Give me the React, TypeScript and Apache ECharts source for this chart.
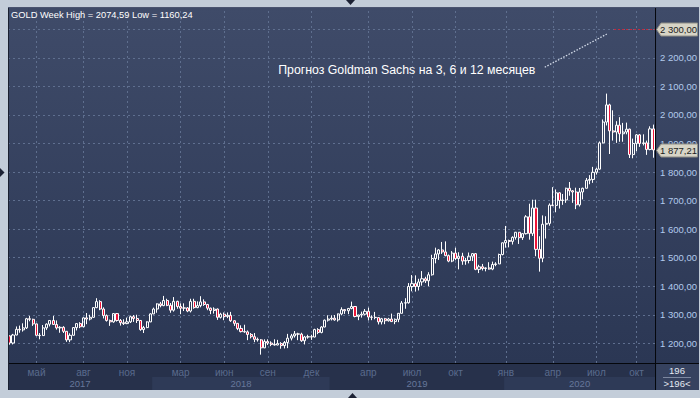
import React, { useEffect, useRef } from "react";
import * as echarts from "echarts";

// Weekly XAUUSD candles, each row: [open, close, low, high]
const candles2017: number[][] = [
  [1226, 1201, 1195, 1227], [1201, 1229, 1196, 1233], [1229, 1249, 1228, 1259], [1249, 1247, 1237, 1262],
  [1247, 1254, 1241, 1270], [1254, 1286, 1250, 1289], [1286, 1284, 1277, 1296], [1284, 1268, 1261, 1286],
  [1268, 1228, 1225, 1269], [1228, 1227, 1214, 1236], [1227, 1254, 1226, 1264], [1254, 1267, 1247, 1270],
  [1267, 1280, 1259, 1281], [1280, 1266, 1265, 1296], [1266, 1254, 1248, 1280], [1254, 1256, 1237, 1260],
  [1256, 1242, 1236, 1260], [1242, 1212, 1205, 1243], [1212, 1228, 1204, 1235], [1228, 1255, 1227, 1257],
  [1255, 1269, 1245, 1270], [1269, 1258, 1253, 1274], [1258, 1289, 1256, 1291], [1289, 1285, 1267, 1306],
  [1285, 1291, 1280, 1300], [1291, 1325, 1290, 1326], [1325, 1346, 1323, 1358], [1346, 1320, 1316, 1351],
  [1320, 1297, 1287, 1326], [1297, 1280, 1276, 1301], [1280, 1275, 1261, 1283], [1275, 1304, 1272, 1306],
  [1304, 1280, 1276, 1306], [1280, 1272, 1262, 1285], [1272, 1269, 1264, 1284], [1269, 1275, 1267, 1290],
  [1275, 1293, 1271, 1297], [1293, 1287, 1275, 1299], [1287, 1280, 1271, 1300], [1280, 1248, 1244, 1281],
  [1248, 1255, 1236, 1261], [1255, 1275, 1253, 1277], [1275, 1303, 1274, 1305],
];
const candles2018: number[][] = [
  [1303, 1320, 1302, 1325], [1320, 1338, 1307, 1340], [1338, 1332, 1326, 1345], [1332, 1350, 1330, 1366],
  [1350, 1333, 1330, 1356], [1333, 1316, 1307, 1341], [1316, 1347, 1311, 1362], [1347, 1329, 1321, 1349],
  [1329, 1323, 1302, 1340], [1323, 1324, 1313, 1340], [1324, 1313, 1309, 1327], [1313, 1347, 1308, 1356],
  [1347, 1325, 1321, 1356], [1325, 1332, 1323, 1347], [1332, 1345, 1326, 1365], [1345, 1336, 1331, 1354],
  [1336, 1323, 1316, 1338], [1323, 1315, 1302, 1325], [1315, 1320, 1304, 1326], [1320, 1291, 1282, 1322],
  [1291, 1302, 1287, 1307], [1302, 1294, 1281, 1308], [1294, 1298, 1288, 1308], [1298, 1279, 1275, 1310],
  [1279, 1270, 1261, 1281], [1270, 1252, 1246, 1271], [1252, 1241, 1238, 1263], [1241, 1240, 1237, 1265],
  [1240, 1231, 1211, 1245], [1231, 1223, 1217, 1236], [1223, 1214, 1204, 1236], [1214, 1212, 1206, 1220],
  [1212, 1184, 1160.24, 1215], [1184, 1206, 1183, 1214], [1206, 1201, 1194, 1214], [1201, 1196, 1190, 1207],
  [1196, 1194, 1192, 1214], [1194, 1199, 1193, 1212], [1199, 1192, 1181, 1204], [1192, 1203, 1182, 1208],
  [1203, 1218, 1183, 1233], [1218, 1226, 1210, 1233], [1226, 1233, 1220, 1243], [1233, 1232, 1211, 1237],
  [1232, 1209, 1205, 1237], [1209, 1222, 1196, 1226], [1222, 1223, 1216, 1230], [1223, 1222, 1212, 1230],
  [1222, 1248, 1221, 1251], [1248, 1238, 1232, 1253], [1238, 1257, 1235, 1260], [1257, 1281, 1256, 1283],
  [1281, 1285, 1276, 1298],
];
const candles2019: number[][] = [
  [1285, 1288, 1280, 1298], [1288, 1282, 1279, 1299], [1282, 1303, 1276, 1304], [1303, 1318, 1298, 1326],
  [1318, 1314, 1303, 1319], [1314, 1322, 1302, 1324], [1322, 1329, 1319, 1346], [1329, 1294, 1291, 1330],
  [1294, 1299, 1281, 1300], [1299, 1302, 1290, 1311], [1302, 1312, 1298, 1320], [1312, 1292, 1280, 1325],
  [1292, 1291, 1281, 1298], [1291, 1290, 1284, 1310], [1290, 1275, 1266, 1291], [1275, 1286, 1266, 1289],
  [1286, 1279, 1267, 1289], [1279, 1285, 1276, 1289], [1285, 1276, 1275, 1304], [1276, 1284, 1267, 1287],
  [1284, 1305, 1274, 1306], [1305, 1341, 1305, 1348], [1341, 1342, 1321, 1358], [1342, 1399, 1339, 1411],
  [1399, 1409, 1382, 1439], [1409, 1399, 1381, 1438], [1399, 1415, 1385, 1426], [1415, 1426, 1402, 1453],
  [1426, 1419, 1411, 1433], [1419, 1440, 1400, 1449], [1440, 1497, 1437, 1510], [1497, 1513, 1480, 1535],
  [1513, 1527, 1492, 1530], [1527, 1520, 1513, 1555], [1520, 1507, 1505, 1557], [1507, 1488, 1484, 1511],
  [1488, 1516, 1484, 1523], [1516, 1497, 1491, 1535], [1497, 1505, 1459, 1519], [1505, 1488, 1475, 1517],
  [1488, 1490, 1475, 1499], [1490, 1505, 1480, 1518], [1505, 1514, 1488, 1516], [1514, 1459, 1456, 1516],
  [1459, 1468, 1446, 1475], [1468, 1462, 1455, 1478], [1462, 1464, 1452, 1466], [1464, 1460, 1458, 1484],
  [1460, 1476, 1456, 1486], [1476, 1478, 1470, 1484], [1478, 1511, 1478, 1514], [1511, 1552, 1508, 1553],
];
const candles2020: number[][] = [
  [1552, 1560, 1535, 1611], [1560, 1557, 1536, 1563], [1557, 1571, 1546, 1575], [1571, 1589, 1563, 1590],
  [1589, 1570, 1548, 1590], [1570, 1584, 1562, 1585], [1584, 1643, 1581, 1649], [1643, 1585, 1563, 1689],
  [1585, 1674, 1576, 1703], [1674, 1529, 1505, 1703], [1529, 1498, 1451, 1575], [1498, 1617, 1484, 1648],
  [1617, 1620, 1567, 1645], [1620, 1684, 1612, 1690], [1684, 1683, 1680, 1747], [1683, 1727, 1659, 1739],
  [1727, 1700, 1672, 1729], [1700, 1702, 1685, 1723], [1702, 1743, 1692, 1745], [1743, 1734, 1717, 1765],
  [1734, 1730, 1692, 1737], [1730, 1685, 1670, 1745], [1685, 1730, 1679, 1744], [1730, 1743, 1704, 1745],
  [1743, 1771, 1743, 1779], [1771, 1774, 1757, 1789], [1774, 1799, 1762, 1818], [1799, 1810, 1791, 1815],
  [1810, 1902, 1808, 1907], [1902, 1975, 1900, 1984], [1975, 2035, 1963, 2074.59], [2035, 1944, 1863, 2039],
  [1944, 1940, 1910, 2016], [1940, 1964, 1902, 1978], [1964, 1934, 1906, 1992], [1934, 1940, 1906, 1972],
  [1940, 1950, 1932, 1973], [1950, 1861, 1849, 1952], [1861, 1900, 1848, 1917], [1900, 1930, 1873, 1933],
  [1930, 1900, 1888, 1933], [1900, 1902, 1893, 1932], [1902, 1879, 1860, 1910], [1879, 1951, 1876, 1960],
  [1951, 1877.21, 1850, 1966],
];

const firstWeekUTC = Date.UTC(2017, 2, 6);
const monthTickIdx = [8, 22, 35, 51, 64, 77, 90, 107, 120, 133, 148, 162, 175, 187];
const monthTickLabels = ["май", "авг", "ноя", "мар", "июн", "сен", "дек", "апр", "июл", "окт", "янв", "апр", "июл", "окт"];
const yearLabels = ["2017", "2018", "2019", "2020"];
const priceGridValues = [1200, 1300, 1400, 1500, 1600, 1700, 1800, 1900, 2000, 2100, 2200, 2300];
const forecastPrice = 2300;
const annotationText = "Прогноз Goldman Sachs на 3, 6 и 12 месяцев";
const barsLabel = "196";

const FONT = "Liberation Sans";

function fmtRu(v: number, sep = " "): string {
  const s = v.toFixed(2);
  const [i, d] = s.split(".");
  return i.replace(/\B(?=(\d{3})+(?!\d))/g, sep) + "," + d;
}

export default function App() {
  const ref = useRef<HTMLDivElement>(null);
  useEffect(() => {
    const chart = echarts.init(ref.current!, null, { renderer: "svg" });
    const yearBlocks = [candles2017, candles2018, candles2019, candles2020];
    const candles = ([] as number[][]).concat(...yearBlocks);
    const weeks = candles.map((_, i) => new Date(firstWeekUTC + i * 7 * 86400000).toISOString().slice(0, 10));
    const lastClose = candles[candles.length - 1][1];
    const hi = Math.max(...candles.map((c) => c[3]));
    const lo = Math.min(...candles.map((c) => c[2]));

    chart.setOption({
      animation: false,
      backgroundColor: "#c3cdd9",
      grid: { left: 8, right: 44, top: 0.7, bottom: 26.15 },
      xAxis: {
        type: "category",
        data: weeks,
        boundaryGap: true,
        offset: -8.5,
        z: 20,
        axisLine: { show: false },
        axisTick: { show: false },
        splitLine: { show: false },
        axisLabel: {
          interval: (i: number) => monthTickIdx.includes(i),
          formatter: (_v: string, i: number) => monthTickLabels[monthTickIdx.indexOf(i)] ?? "",
          color: "#5a6b8d",
          fontSize: 10,
          fontFamily: FONT,
          margin: 4,
        },
      },
      yAxis: {
        type: "value",
        position: "right",
        min: 1100,
        max: 2400,
        interval: 100,
        z: 20,
        splitLine: { show: false },
        axisLine: { show: false },
        axisTick: { show: false },
        axisLabel: {
          showMinLabel: false,
          showMaxLabel: false,
          margin: 5,
          color: "#b2caec",
          fontSize: 9.5,
          fontFamily: FONT,
          formatter: (v: number) => fmtRu(v),
        },
      },
      series: [
        {
          type: "line",
          data: [],
          silent: true,
          z: 1,
          markLine: {
            z: 1,
            silent: true,
            symbol: "none",
            label: { show: false },
            lineStyle: { color: "#5f6f8f", type: [2, 3], width: 1 },
            data: [
              ...priceGridValues.map((v) => ({ yAxis: v })),
              ...monthTickIdx.map((i) => [{ coord: [weeks[i], 1131] }, { coord: [weeks[i], 2375] }]),
            ],
          },
        },
        {
          type: "candlestick",
          data: candles,
          z: 3,
          barWidth: 2.6,
          itemStyle: {
            color: "transparent",
            color0: "#ee1438",
            borderColor: "#ffffff",
            borderColor0: "#ffffff",
            borderWidth: 1,
          },
        },
      ],
    });

    const px0 = chart.convertToPixel({ xAxisIndex: 0 }, 0) as number;
    const band = (chart.convertToPixel({ xAxisIndex: 0 }, 1) as number) - px0;
    const pxF = (f: number) => px0 + f * band;
    const py = (v: number) => chart.convertToPixel({ yAxisIndex: 0 }, v) as number;

    const plotBottom = py(1131);
    const plotRight = pxF(candles.length - 0.5);
    const frameLeft = 8;
    const frameRight = 699;
    const frameBottom = 390;

    let start = 0;
    const yearEls: any[] = [];
    yearBlocks.forEach((blk, k) => {
      const x0 = pxF(start - 0.5);
      const x1 = pxF(start + blk.length - 0.5);
      yearEls.push({
        type: "rect",
        z: -1,
        shape: { x: x0, y: plotBottom + 14, width: x1 - x0, height: frameBottom - plotBottom - 14 },
        style: { fill: k % 2 === 1 ? "#2e3a57" : "#27314b" },
      });
      yearEls.push({
        type: "text",
        z: 30,
        x: (x0 + x1) / 2,
        y: plotBottom + 20.5,
        style: { text: yearLabels[k], fill: "#66779a", font: `9.5px "${FONT}"`, align: "center", verticalAlign: "middle" },
      });
      start += blk.length;
    });

    const marker = (v: number, txt: string) => {
      const c = Math.round(py(v)) + 0.5;
      return [
        {
          type: "polygon",
          z: 40,
          shape: { points: [[plotRight + 1.5, c], [plotRight + 6, c - 6.5], [frameRight - 1.5, c - 6.5], [frameRight - 1.5, c + 6.5], [plotRight + 6, c + 6.5]] },
          style: { fill: "#d7d4c6", stroke: "#8f8e86", lineWidth: 1 },
        },
        {
          type: "text",
          z: 41,
          x: plotRight + 5,
          y: c,
          style: { text: txt, fill: "#1c1c1c", font: `9.5px "${FONT}"`, align: "left", verticalAlign: "middle" },
        },
      ];
    };

    const tri = (pts: number[][]) => ({ type: "polygon", z: 40, shape: { points: pts }, style: { fill: "#1c2234" } });

    chart.setOption({
      graphic: [
        {
          type: "rect",
          z: -2,
          shape: { x: frameLeft, y: 8, width: frameRight - frameLeft, height: plotBottom - 8 },
          style: {
            fill: new echarts.graphic.LinearGradient(0, 0, 0, 1, [
              { offset: 0, color: "#3f4b69" },
              { offset: 1, color: "#2b3754" },
            ]),
          },
        },
        {
          type: "rect",
          z: -2,
          shape: { x: frameLeft, y: plotBottom, width: frameRight - frameLeft, height: frameBottom - plotBottom },
          style: { fill: "#27314b" },
        },
        {
          type: "rect",
          z: -1,
          shape: { x: plotRight + 1, y: plotBottom, width: frameRight - plotRight - 1, height: frameBottom - plotBottom },
          style: { fill: "#36425f" },
        },
        ...yearEls,
        { type: "rect", z: 30, shape: { x: plotRight, y: 8, width: 1, height: frameBottom - 8 }, style: { fill: "#05070c" } },
        { type: "rect", z: 30, shape: { x: frameLeft, y: plotBottom, width: frameRight - frameLeft, height: 1 }, style: { fill: "#05070c" } },
        { type: "rect", z: 30, shape: { x: frameLeft, y: 8, width: 1, height: frameBottom - 8 }, style: { fill: "#1a2030" } },
        { type: "rect", z: 30, shape: { x: frameLeft, y: 7, width: frameRight - frameLeft, height: 1 }, style: { fill: "#4a5470" } },
        {
          type: "text",
          z: 40,
          x: 11,
          y: 14.5,
          style: { text: `GOLD Week High = ${fmtRu(hi, "")} Low = ${fmtRu(lo, "")}`, fill: "#ffffff", font: `9.3px "${FONT}"`, verticalAlign: "middle" },
        },
        {
          type: "line",
          z: 35,
          shape: { x1: pxF(180.3), y1: Math.round(py(forecastPrice)) + 0.5, x2: plotRight, y2: Math.round(py(forecastPrice)) + 0.5 },
          style: { stroke: "#c8283c", lineWidth: 1, lineDash: [2, 2] },
        },
        {
          type: "line",
          z: 35,
          shape: { x1: pxF(159.6), y1: py(2167), x2: pxF(178.1), y2: py(2283) },
          style: { stroke: "#d4dcea", lineWidth: 1.3, lineDash: [1.5, 1.5] },
        },
        {
          type: "text",
          z: 40,
          x: pxF(80.1),
          y: py(2157),
          style: { text: annotationText, fill: "#ffffff", font: `12.3px "${FONT}"`, align: "left", verticalAlign: "middle" },
        },
        ...marker(forecastPrice, fmtRu(forecastPrice)),
        ...marker(lastClose, fmtRu(lastClose)),
        {
          type: "text",
          z: 40,
          x: (plotRight + frameRight) / 2,
          y: plotBottom + 7.5,
          style: { text: barsLabel, fill: "#e4e9f2", font: `9.5px "${FONT}"`, align: "center", verticalAlign: "middle" },
        },
        {
          type: "rect",
          z: 40,
          shape: { x: plotRight + 8, y: plotBottom + 14, width: frameRight - plotRight - 16, height: 1 },
          style: { fill: "#7d88a0" },
        },
        {
          type: "text",
          z: 40,
          x: (plotRight + frameRight) / 2,
          y: plotBottom + 20.5,
          style: { text: `>${barsLabel}<`, fill: "#e4e9f2", font: `9.5px "${FONT}"`, align: "center", verticalAlign: "middle" },
        },
        tri([[346, 0], [355, 0], [350.5, 5]]),
        tri([[348, 398], [357, 398], [352.5, 393]]),
        tri([[0, 168], [0, 177], [4.5, 172.5]]),
      ],
    });

    return () => chart.dispose();
  }, []);
  return <div ref={ref} style={{ position: "fixed", left: 0, top: 0, width: 700, height: 398 }} />;
}
